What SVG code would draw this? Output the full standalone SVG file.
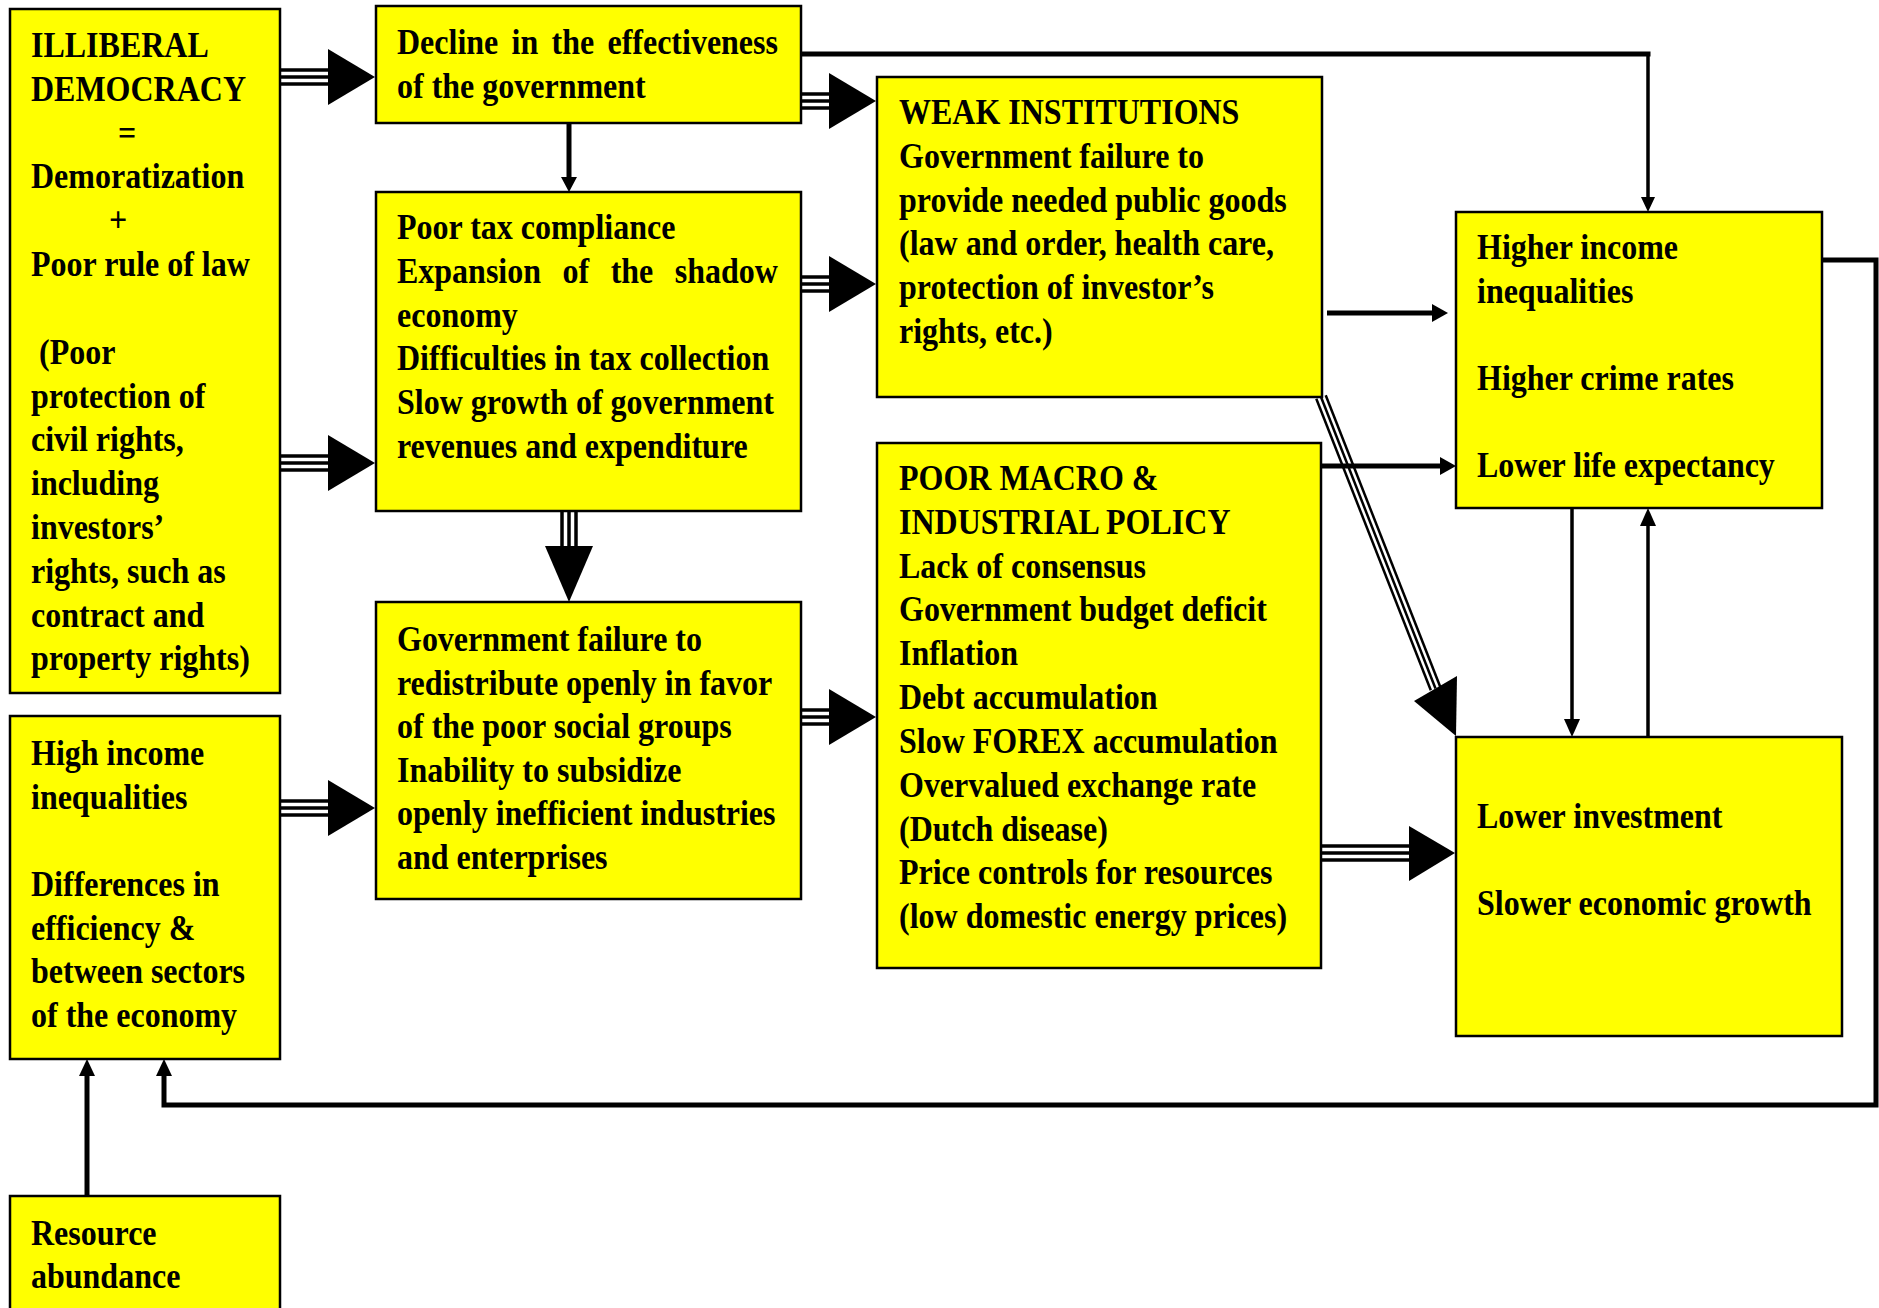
<svg xmlns="http://www.w3.org/2000/svg" width="1879" height="1308" viewBox="0 0 1879 1308">
<style>
.box{fill:#ffff00;stroke:#000;stroke-width:2.5}
.t{font-family:"Liberation Serif","Times New Roman",serif;font-weight:bold;font-size:32px;fill:#000}
.tri{stroke:#000;stroke-width:3.5;fill:none}
.thk{stroke:#000;stroke-width:5;fill:none}
.thn{stroke:#000;stroke-width:3.5;fill:none}
.hd{fill:#000;stroke:none}
</style>
<rect width="1879" height="1308" fill="#fff"/>
<g id="connectors">
  <g id="c1"><line class="tri" x1="281" y1="70" x2="330" y2="70"/><line class="tri" x1="281" y1="77" x2="330" y2="77"/><line class="tri" x1="281" y1="84" x2="330" y2="84"/><polygon class="hd" points="328,49 375,77 328,105"/></g>
  <g id="c2"><line class="tri" x1="281" y1="456" x2="330" y2="456"/><line class="tri" x1="281" y1="463" x2="330" y2="463"/><line class="tri" x1="281" y1="470" x2="330" y2="470"/><polygon class="hd" points="328,435 375,463 328,491"/></g>
  <g id="c3"><line class="tri" x1="281" y1="801" x2="330" y2="801"/><line class="tri" x1="281" y1="808" x2="330" y2="808"/><line class="tri" x1="281" y1="815" x2="330" y2="815"/><polygon class="hd" points="328,780 375,808 328,836"/></g>
  <g id="c4"><line class="tri" x1="802" y1="94" x2="831" y2="94"/><line class="tri" x1="802" y1="101" x2="831" y2="101"/><line class="tri" x1="802" y1="108" x2="831" y2="108"/><polygon class="hd" points="829,73 876,101 829,129"/></g>
  <g id="c5"><line class="tri" x1="802" y1="277" x2="831" y2="277"/><line class="tri" x1="802" y1="284" x2="831" y2="284"/><line class="tri" x1="802" y1="291" x2="831" y2="291"/><polygon class="hd" points="829,256 876,284 829,312"/></g>
  <g id="c6"><line class="tri" x1="802" y1="710" x2="831" y2="710"/><line class="tri" x1="802" y1="717" x2="831" y2="717"/><line class="tri" x1="802" y1="724" x2="831" y2="724"/><polygon class="hd" points="829,689 876,717 829,745"/></g>
  <g id="c7"><line class="tri" x1="1322" y1="846" x2="1411" y2="846"/><line class="tri" x1="1322" y1="853" x2="1411" y2="853"/><line class="tri" x1="1322" y1="860" x2="1411" y2="860"/><polygon class="hd" points="1409,826 1455,853 1409,881"/></g>
  <g id="c8"><line class="tri" x1="562" y1="512" x2="562" y2="548"/><line class="tri" x1="569" y1="512" x2="569" y2="548"/><line class="tri" x1="576" y1="512" x2="576" y2="548"/><polygon class="hd" points="545,546 593,546 569,602"/></g>
  <g id="c9"><line class="tri" style="stroke-width:2.5" x1="1325.7" y1="395.2" x2="1440.2" y2="686.7"/><line class="tri" style="stroke-width:2.5" x1="1321" y1="397" x2="1435.5" y2="688.5"/><line class="tri" style="stroke-width:2.5" x1="1316.3" y1="398.8" x2="1430.8" y2="690.3"/><polygon class="hd" points="1457,676 1456,736 1414,701"/></g>
  <g id="c10"><line class="thk" x1="569" y1="123" x2="569" y2="179"/><polygon class="hd" points="561,177 577,177 569,192"/></g>
  <g id="c11"><line class="thk" x1="801" y1="54" x2="1650.5" y2="54"/><line class="thn" x1="1648" y1="52" x2="1648" y2="199"/><polygon class="hd" points="1641,197 1655,197 1648,212"/></g>
  <g id="c12"><line class="thk" x1="1327" y1="313" x2="1434" y2="313"/><polygon class="hd" points="1432,304 1448,313 1432,322"/></g>
  <g id="c13"><line class="thk" x1="1321" y1="466" x2="1442" y2="466"/><polygon class="hd" points="1440,457 1456,466 1440,475"/></g>
  <g id="c14"><line class="thn" x1="1572" y1="508" x2="1572" y2="721"/><polygon class="hd" points="1564,719 1580,719 1572,737"/></g>
  <g id="c15"><line class="thn" x1="1648" y1="737" x2="1648" y2="524"/><polygon class="hd" points="1640,526 1656,526 1648,508"/></g>
  <g id="c16"><line class="thk" x1="87" y1="1196" x2="87" y2="1074"/><polygon class="hd" points="79,1076 95,1076 87,1059"/></g>
  <g id="c17"><path class="thk" d="M1822,260 H1876 V1105 H164 V1074"/><polygon class="hd" points="156,1076 172,1076 164,1059"/></g>
</g>
<g id="n1"><rect class="box" x="10" y="9" width="270" height="684"/>
<text class="t" transform="translate(31 57) scale(1 1.15)"><tspan x="0" dy="0">ILLIBERAL</tspan><tspan x="0" dy="38.1">DEMOCRACY</tspan><tspan x="87" dy="38.1">=</tspan><tspan x="0" dy="38.1">Demoratization</tspan><tspan x="78" dy="38.1">+</tspan><tspan x="0" dy="38.1">Poor rule of law</tspan><tspan x="8" dy="76.2">(Poor</tspan><tspan x="0" dy="38.1">protection of</tspan><tspan x="0" dy="38.1">civil rights,</tspan><tspan x="0" dy="38.1">including</tspan><tspan x="0" dy="38.1">investors’</tspan><tspan x="0" dy="38.1">rights, such as</tspan><tspan x="0" dy="38.1">contract and</tspan><tspan x="0" dy="38.1">property rights)</tspan></text></g>
<g id="n2"><rect class="box" x="376" y="6" width="425" height="117"/>
<text class="t" transform="translate(397 54) scale(1 1.15)"><tspan x="0" dy="0" word-spacing="5.3">Decline in the effectiveness</tspan><tspan x="0" dy="38">of the government</tspan></text></g>
<g id="n3"><rect class="box" x="376" y="192" width="425" height="319"/>
<text class="t" transform="translate(397 239) scale(1 1.15)"><tspan x="0" dy="0">Poor tax compliance</tspan><tspan x="0" dy="38.1" word-spacing="13.5">Expansion of the shadow</tspan><tspan x="0" dy="38.1">economy</tspan><tspan x="0" dy="38.1">Difficulties in tax collection</tspan><tspan x="0" dy="38.1">Slow growth of government</tspan><tspan x="0" dy="38.1">revenues and expenditure</tspan></text></g>
<g id="n4"><rect class="box" x="376" y="602" width="425" height="297"/>
<text class="t" transform="translate(397 651) scale(1 1.15)"><tspan x="0" dy="0">Government failure to</tspan><tspan x="0" dy="37.9">redistribute openly in favor</tspan><tspan x="0" dy="37.9">of the poor social groups</tspan><tspan x="0" dy="37.9">Inability to subsidize</tspan><tspan x="0" dy="37.9">openly inefficient industries</tspan><tspan x="0" dy="37.9">and enterprises</tspan></text></g>
<g id="n5"><rect class="box" x="10" y="716" width="270" height="343"/>
<text class="t" transform="translate(31 765) scale(1 1.15)"><tspan x="0" dy="0">High income</tspan><tspan x="0" dy="38">inequalities</tspan><tspan x="0" dy="76">Differences in</tspan><tspan x="0" dy="38">efficiency &amp;</tspan><tspan x="0" dy="38">between sectors</tspan><tspan x="0" dy="38">of the economy</tspan></text></g>
<g id="n6"><rect class="box" x="10" y="1196" width="270" height="130"/>
<text class="t" transform="translate(31 1245) scale(1 1.15)"><tspan x="0" dy="0">Resource</tspan><tspan x="0" dy="37.5">abundance</tspan></text></g>
<g id="n7"><rect class="box" x="877" y="77" width="445" height="320"/>
<text class="t" transform="translate(899 124) scale(1 1.15)"><tspan x="0" dy="0">WEAK INSTITUTIONS</tspan><tspan x="0" dy="38.1">Government failure to</tspan><tspan x="0" dy="38.1">provide needed public goods</tspan><tspan x="0" dy="38.1">(law and order, health care,</tspan><tspan x="0" dy="38.1">protection of investor’s</tspan><tspan x="0" dy="38.1">rights, etc.)</tspan></text></g>
<g id="n8"><rect class="box" x="877" y="443" width="444" height="525"/>
<text class="t" transform="translate(899 490) scale(1 1.15)"><tspan x="0" dy="0">POOR MACRO &amp;</tspan><tspan x="0" dy="38.1">INDUSTRIAL POLICY</tspan><tspan x="0" dy="38.1">Lack of consensus</tspan><tspan x="0" dy="38.1">Government budget deficit</tspan><tspan x="0" dy="38.1">Inflation</tspan><tspan x="0" dy="38.1">Debt accumulation</tspan><tspan x="0" dy="38.1">Slow FOREX accumulation</tspan><tspan x="0" dy="38.1">Overvalued exchange rate</tspan><tspan x="0" dy="38.1">(Dutch disease)</tspan><tspan x="0" dy="38.1">Price controls for resources</tspan><tspan x="0" dy="38.1">(low domestic energy prices)</tspan></text></g>
<g id="n9"><rect class="box" x="1456" y="212" width="366" height="296"/>
<text class="t" transform="translate(1477 259) scale(1 1.15)"><tspan x="0" dy="0">Higher income</tspan><tspan x="0" dy="38">inequalities</tspan><tspan x="0" dy="76">Higher crime rates</tspan><tspan x="0" dy="76">Lower life expectancy</tspan></text></g>
<g id="n10"><rect class="box" x="1456" y="737" width="386" height="299"/>
<text class="t" transform="translate(1477 828) scale(1 1.15)"><tspan x="0" dy="0">Lower investment</tspan><tspan x="0" dy="76">Slower economic growth</tspan></text></g>
</svg>
